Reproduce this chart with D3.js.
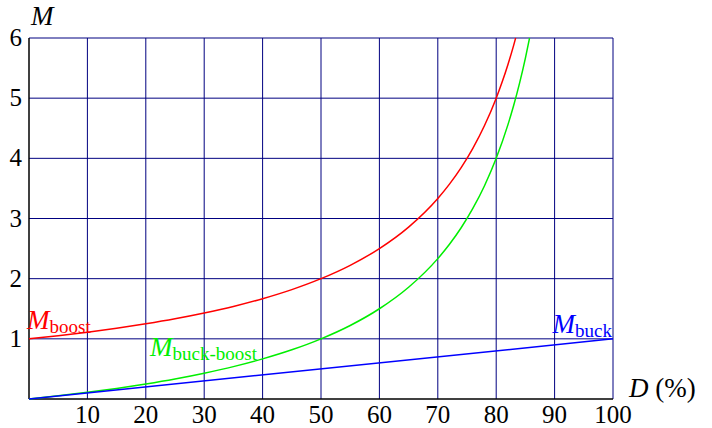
<!DOCTYPE html>
<html><head><meta charset="utf-8">
<script src="https://cdn.jsdelivr.net/npm/d3@7"></script>
<style>body{margin:0;background:#fff}svg{display:block}</style>
</head><body>
<svg id="c" width="712" height="428" font-family="'Liberation Serif','Times New Roman','DejaVu Serif',serif"></svg>
<script>
const xTicks = [10,20,30,40,50,60,70,80,90,100];
const yTicks = [1,2,3,4,5,6];
const boostD = [0,5,10,15,20,25,30,35,40,45,50,55,60,65,70,72,74,76,78,80,81,82,83,83.33];
const boostM = [1,1.053,1.111,1.176,1.25,1.333,1.429,1.538,1.667,1.818,2,2.222,2.5,2.857,3.333,3.571,3.846,4.167,4.545,5,5.263,5.556,5.882,6];
const bbD = [0,5,10,15,20,25,30,35,40,45,50,55,60,65,70,72,74,76,78,80,82,83,84,85,85.71];
const bbM = [0,0.053,0.111,0.176,0.25,0.333,0.429,0.538,0.667,0.818,1,1.222,1.5,1.857,2.333,2.571,2.846,3.167,3.545,4,4.556,4.882,5.25,5.667,6];
const buckD = [0,100];
const buckM = [0,1];

const FF = "'Liberation Serif','Times New Roman','DejaVu Serif',serif";
const svg = d3.select("#c");
const L=29, R=613, T=38, B=399;
const x = d3.scaleLinear().domain([0,100]).range([L,R]);
const y = d3.scaleLinear().domain([0,6]).range([B,T]);
const grid = "#000080";

// grid
svg.append("g").selectAll("line").data(xTicks).join("line")
  .attr("x1",d=>x(d)).attr("x2",d=>x(d)).attr("y1",T).attr("y2",B)
  .attr("stroke",grid).attr("stroke-width",1);
svg.append("g").selectAll("line").data(yTicks).join("line")
  .attr("x1",L).attr("x2",R).attr("y1",d=>y(d)).attr("y2",d=>y(d))
  .attr("stroke",grid).attr("stroke-width",1);
// axes
svg.append("line").attr("x1",L).attr("x2",L).attr("y1",T).attr("y2",B).attr("stroke","#000").attr("stroke-width",1.5);
svg.append("line").attr("x1",L).attr("x2",R).attr("y1",B).attr("y2",B).attr("stroke","#000").attr("stroke-width",1.5);

// tick labels
svg.append("g").selectAll("text").data(xTicks).join("text")
  .attr("font-family",FF)
  .attr("x",d=>x(d)).attr("y",423).attr("text-anchor","middle")
  .attr("font-size",25).text(d=>d);
svg.append("g").selectAll("text").data(yTicks).join("text")
  .attr("font-family",FF)
  .attr("x",22).attr("y",d=>y(d)+8).attr("text-anchor","end")
  .attr("font-size",25).text(d=>d);

// curves
const line = d3.line().x(d=>x(d[0])).y(d=>y(d[1])).curve(d3.curveMonotoneX);
const series = [
  {D:boostD,M:boostM,c:"#ff0000"},
  {D:bbD,M:bbM,c:"#00ee00"},
  {D:buckD,M:buckM,c:"#0000ff"}
];
series.forEach(s=>{
  svg.append("path").attr("d",line(s.D.map((d,i)=>[d,s.M[i]])))
    .attr("fill","none").attr("stroke",s.c).attr("stroke-width",1.5);
});

// labels
function mlabel(px,py,sub,color,anchor){
  const t = svg.append("text").attr("font-family",FF).attr("x",px).attr("y",py).attr("fill",color).attr("font-size",27).attr("text-anchor",anchor||"start");
  t.append("tspan").attr("font-style","italic").text("M");
  t.append("tspan").attr("font-size",19).attr("dy",4).text(sub);
}
mlabel(27,329,"boost","#ff0000");
mlabel(150,356,"buck-boost","#00ee00");
mlabel(612,333,"buck","#0000ff","end");

svg.append("text").attr("font-family",FF).attr("x",31).attr("y",25).attr("font-size",27).attr("font-style","italic").text("M");
const dl = svg.append("text").attr("font-family",FF).attr("x",629).attr("y",397).attr("font-size",27);
dl.append("tspan").attr("font-style","italic").text("D");
dl.append("tspan").text("\u00a0(%)");
</script>
</body></html>
